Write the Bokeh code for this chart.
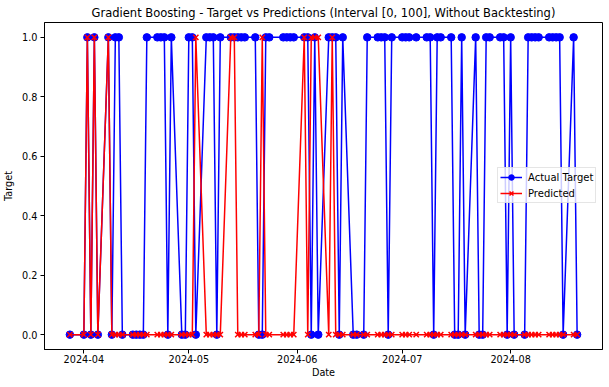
import pandas as pd
from bokeh.plotting import figure
from bokeh.models import (Range1d, FixedTicker, PrintfTickFormatter, Legend, LegendItem, Title)
from bokeh.embed import file_html
from bokeh.resources import INLINE

dates = [
    "2024-03-28",
    "2024-04-01", "2024-04-02", "2024-04-03", "2024-04-04", "2024-04-05",
    "2024-04-08", "2024-04-09", "2024-04-10", "2024-04-11", "2024-04-12",
    "2024-04-15", "2024-04-16", "2024-04-17", "2024-04-18", "2024-04-19",
    "2024-04-22", "2024-04-23", "2024-04-24", "2024-04-25", "2024-04-26",
    "2024-04-29", "2024-04-30", "2024-05-01", "2024-05-02", "2024-05-03",
    "2024-05-06", "2024-05-07", "2024-05-08", "2024-05-09", "2024-05-10",
    "2024-05-13", "2024-05-14", "2024-05-15", "2024-05-16", "2024-05-17",
    "2024-05-20", "2024-05-21", "2024-05-22", "2024-05-23", "2024-05-24",
    "2024-05-28", "2024-05-29", "2024-05-30", "2024-05-31",
    "2024-06-03", "2024-06-04", "2024-06-05", "2024-06-06", "2024-06-07",
    "2024-06-10", "2024-06-11", "2024-06-12", "2024-06-13", "2024-06-14",
    "2024-06-17", "2024-06-18", "2024-06-20", "2024-06-21",
    "2024-06-24", "2024-06-25", "2024-06-26", "2024-06-27", "2024-06-28",
    "2024-07-01", "2024-07-02", "2024-07-03", "2024-07-05",
    "2024-07-08", "2024-07-09", "2024-07-10", "2024-07-11", "2024-07-12",
    "2024-07-15", "2024-07-16", "2024-07-17", "2024-07-18", "2024-07-19",
    "2024-07-22", "2024-07-23", "2024-07-24", "2024-07-25", "2024-07-26",
    "2024-07-29", "2024-07-30", "2024-07-31", "2024-08-01", "2024-08-02",
    "2024-08-05", "2024-08-06", "2024-08-07", "2024-08-08", "2024-08-09",
    "2024-08-12", "2024-08-13", "2024-08-14", "2024-08-15", "2024-08-16",
    "2024-08-19", "2024-08-20",
]

actual_target = [
    0,
    0, 1, 0, 1, 0,
    1, 0, 1, 1, 0,
    0, 0, 0, 0, 1,
    1, 1, 1, 0, 1,
    0, 0, 1, 1, 0,
    1, 1, 1, 0, 1,
    1, 1, 1, 1, 1,
    1, 0, 0, 1, 1,
    1, 1, 1, 1,
    1, 1, 0, 1, 0,
    1, 1, 1, 0, 1,
    0, 0, 0, 1,
    1, 1, 1, 0, 1,
    1, 1, 1, 1,
    1, 1, 0, 1, 1,
    1, 0, 0, 1, 0,
    1, 0, 0, 1, 1,
    1, 1, 0, 1, 0,
    0, 1, 1, 1, 1,
    1, 1, 1, 1, 0,
    1, 0,
]

predicted = [
    0,
    0, 1, 0, 1, 0,
    1, 0, 0, 0, 0,
    0, 0, 0, 0, 0,
    0, 0, 0, 0, 0,
    0, 0, 0, 0, 1,
    0, 0, 0, 0, 0,
    1, 1, 0, 0, 0,
    0, 0, 1, 0, 0,
    0, 0, 0, 0,
    1, 0, 1, 1, 1,
    0, 1, 0, 0, 0,
    0, 0, 0, 0,
    0, 0, 0, 0, 0,
    0, 0, 0, 0,
    0, 0, 0, 0, 0,
    0, 0, 0, 0, 0,
    0, 0, 0, 0, 0,
    0, 0, 0, 0, 0,
    0, 0, 0, 0, 0,
    0, 0, 0, 0, 0,
    0, 0,
]

tick_labels = ["2024-04", "2024-05", "2024-06", "2024-07", "2024-08"]
y_ticks = [0.0, 0.2, 0.4, 0.6, 0.8, 1.0]

FONT = "DejaVu Sans"

x = pd.to_datetime(dates)
span = x.max() - x.min()
pad = span * 0.05
x_start = x.min() - pad
x_end = x.max() + pad

tick_ms = [pd.Timestamp(t + "-01").value / 1e6 for t in tick_labels]

p = figure(
    frame_width=558, frame_height=327,
    x_axis_type="datetime",
    x_range=Range1d(x_start, x_end),
    y_range=Range1d(-0.05, 1.05),
    output_backend="svg",
    toolbar_location=None,
    min_border_left=0, min_border_right=6, min_border_top=0, min_border_bottom=0,
)

t = Title(text="Gradient Boosting - Target vs Predictions (Interval [0, 100], Without Backtesting)",
          align="center", text_font=FONT, text_font_size="11.5px", text_font_style="normal",
          text_color="black", standoff=6, offset=0)
p.add_layout(t, "above")
p.title.visible = False

p.xgrid.visible = False
p.ygrid.visible = False
p.outline_line_color = "black"
p.outline_line_width = 1
p.background_fill_color = "white"
p.border_fill_color = "white"

p.xaxis.ticker = FixedTicker(ticks=tick_ms)
p.xaxis.major_label_overrides = {tm: lab for tm, lab in zip(tick_ms, tick_labels)}
p.yaxis.ticker = FixedTicker(ticks=y_ticks)
p.yaxis.formatter = PrintfTickFormatter(format="%.1f")

for ax in (p.xaxis[0], p.yaxis[0]):
    ax.major_label_text_font = FONT
    ax.major_label_text_font_size = "9.7px"
    ax.major_label_text_color = "black"
    ax.axis_label_text_font = FONT
    ax.axis_label_text_font_size = "9.7px"
    ax.axis_label_text_font_style = "normal"
    ax.axis_label_text_color = "black"
    ax.axis_line_color = "black"
    ax.major_tick_line_color = "black"
    ax.minor_tick_line_color = None
    ax.major_tick_out = 4
    ax.major_tick_in = 0

p.xaxis.major_label_standoff = 1
p.xaxis.axis_label_standoff = 1
p.yaxis.major_label_standoff = 3
p.yaxis.axis_label_standoff = 5

p.xaxis.axis_label = "Date"
p.yaxis.axis_label = "Target"

lb = p.line(x, actual_target, line_color="blue", line_width=1.5)
sb = p.scatter(x, actual_target, marker="circle", size=7.5, fill_color="blue", line_color="blue")
lr = p.line(x, predicted, line_color="red", line_width=1.5)
sr = p.scatter(x, predicted, marker="x", size=7.5, line_color="red", line_width=1.5)

legend = Legend(items=[LegendItem(label="Actual Target", renderers=[lb, sb]),
                       LegendItem(label="Predicted", renderers=[lr, sr])],
                location=(453, 146))
legend.label_text_font = FONT
legend.label_text_font_size = "10px"
legend.label_text_color = "black"
legend.glyph_width = 22
legend.glyph_height = 14
legend.label_standoff = 6
legend.label_height = 14
legend.spacing = 2
legend.padding = 2
legend.margin = 0
legend.border_line_color = "#cccccc"
legend.border_line_width = 1
legend.background_fill_alpha = 0.8
p.add_layout(legend, "center")

open("out.html", "w").write(file_html(p, INLINE))
